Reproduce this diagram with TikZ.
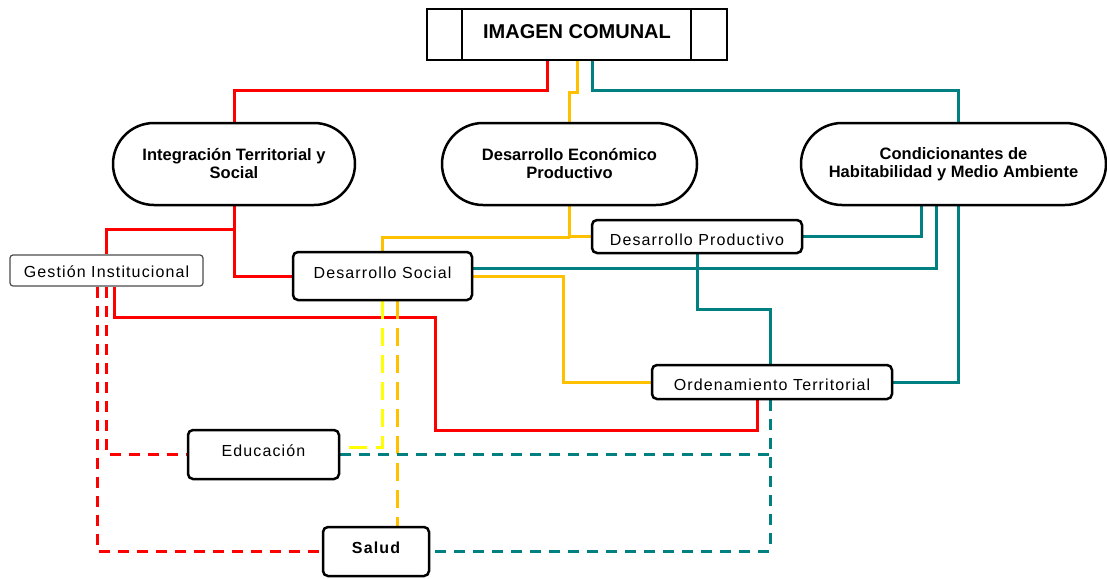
\documentclass[tikz,border=0pt]{standalone}
\usepackage{fontspec}
\setmainfont{Liberation Sans}
\newfontfamily\boxfont[LetterSpace=7]{Liberation Sans}
\usetikzlibrary{calc}
\definecolor{cred}{RGB}{255,0,0}
\definecolor{cteal}{RGB}{0,128,128}
\definecolor{cgold}{RGB}{255,192,0}
\definecolor{cyel}{RGB}{255,255,0}
\pgfdeclarelayer{bg}
\pgfsetlayers{bg,main}
\begin{document}
\begin{tikzpicture}[x=1pt,y=-1pt,
  conn/.style={line width=3pt},
  dashconn/.style={line width=3pt, dash pattern=on 11pt off 8pt},
  longdash/.style={line width=3pt, dash pattern=on 18pt off 9pt},
  pill/.style={draw, line width=2.5pt, fill=white, rounded corners=41pt,
    minimum height=82pt, inner sep=0pt, align=center,
    font=\bfseries\fontsize{16.5}{18}\selectfont},
  rbox/.style={draw, line width=2.5pt, fill=white, rounded corners=5pt,
    inner sep=0pt, font=\boxfont\fontsize{16}{18}\selectfont},
  thinbox/.style={draw=black!70, line width=1.2pt, fill=white, rounded corners=3pt,
    inner sep=0pt, font=\boxfont\fontsize{16}{18}\selectfont},
  titlebox/.style={draw, line width=2pt, fill=white, inner sep=0pt,
    font=\bfseries\fontsize{20}{22}\selectfont}
]
\useasboundingbox (0,0) rectangle (1107,578);

% nodes
\node[titlebox, minimum width=300pt, text height=30pt, text depth=21pt] (img) at (577,34.5) {IMAGEN COMUNAL};
\draw[line width=2pt] ([xshift=36pt]img.north west) -- ([xshift=36pt]img.south west);
\draw[line width=2pt] ([xshift=-37pt]img.north east) -- ([xshift=-37pt]img.south east);
\node[pill, minimum width=242pt] (intg) at (234,164) {Integración Territorial y\\Social};
\node[pill, minimum width=255pt] (ece) at (569.5,164) {Desarrollo Económico\\Productivo};
\node[pill, minimum width=305pt] (cond) at (953.5,164) {Condicionantes de\\Habitabilidad y Medio Ambiente};
\node[thinbox, minimum width=193pt, text height=22pt, text depth=9pt] (gest) at (106.5,270.5) {Gestión Institucional};
\node[rbox, minimum width=179pt, text height=26pt, text depth=22pt] (ds) at (382.5,276) {Desarrollo Social};
\node[rbox, minimum width=210pt, text height=25pt, text depth=8pt] (dp) at (697,236.5) {Desarrollo Productivo};
\node[rbox, minimum width=240pt, text height=25pt, text depth=9pt] (ord) at (772,382) {Ordenamiento Territorial};
\node[rbox, minimum width=151pt, text height=26pt, text depth=23pt] (edu) at (263.5,454.5) {Educación};
\node[rbox, minimum width=106pt, text height=26pt, text depth=23pt, font=\boxfont\bfseries\fontsize{16}{18}\selectfont] (sal) at (376,551.5) {Salud};

\coordinate (ordS) at ([xshift=-2pt]ord.south);

\begin{pgfonlayer}{bg}
% red solid
\draw[conn, cred] ([xshift=-30pt]img.south) -- ++(0,29) -| (intg.north);
\draw[conn, cred] (intg.south) |- (ds.west);
\draw[conn, cred] (intg.south) ++(0,23) -| (gest.north);
\draw[conn, cred] ([xshift=8pt]gest.south) -- ++(0,31) -- ++(321,0) -- ++(0,113) -| ([xshift=-15pt]ord.south);
% red dashed
\draw[dashconn, cred] (gest.south) |- (edu.west);
\draw[dashconn, cred] ([xshift=-9pt]gest.south) |- (sal.west);
% yellow
\draw[conn, cgold] (img.south) -- ++(0,31) -| (ece.north);
\draw[conn, cgold] (ece.south) |- (dp.west);
\draw[conn, cgold] (ece.south) ++(0,31) -| (ds.north);
\draw[conn, cgold] (ds.east) -- ++(90,0) |- (ord.west);
\draw[longdash, cyel] (ds.south) |- ([yshift=7pt]edu.east);
\draw[longdash, cgold] ([xshift=15pt]ds.south) -- ([xshift=15pt]ds.south |- sal.north);
% teal
\draw[conn, cteal] ([xshift=15pt]img.south) -- ++(0,29) -| ([xshift=4.5pt]cond.north);
\draw[conn, cteal] ([xshift=-32.5pt]cond.south) |- (dp.east);
\draw[conn, cteal] ([xshift=-17.5pt]cond.south) |- ([yshift=8pt]ds.east);
\draw[conn, cteal] ([xshift=4.5pt]cond.south) |- (ord.east);
\draw[conn, cteal] (dp.south) -- ++(0,55) -| (ordS |- ord.north);
\draw[dashconn, cteal] (ordS) |- (sal.east);
\draw[dashconn, cteal] (edu.east) -- (edu.east -| ordS);
\end{pgfonlayer}
\end{tikzpicture}
\end{document}
